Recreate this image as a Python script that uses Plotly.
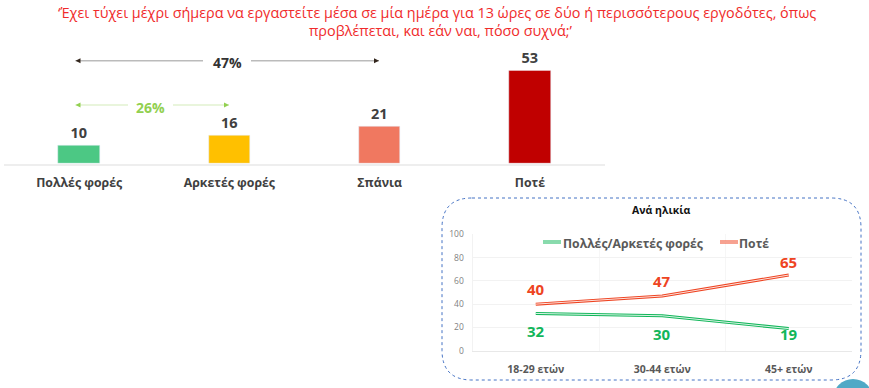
import plotly.graph_objects as go

W, H = 869, 388
question = ["‘Έχει τύχει μέχρι σήμερα να εργαστείτε μέσα σε μία ημέρα για 13 ώρες σε δύο ή περισσότερους εργοδότες, όπως",
            "προβλέπεται, και εάν ναι, πόσο συχνά;’"]
bar_categories = ["Πολλές φορές", "Αρκετές φορές", "Σπάνια", "Ποτέ"]
bar_values = [10, 16, 21, 53]
bar_colors = ["#4CC884", "#FFC000", "#F07860", "#C00000"]
age_groups = ["18-29 ετών", "30-44 ετών", "45+ ετών"]
often_values = [32, 30, 19]
never_values = [40, 47, 65]
often_label_shift = [-18, -18, -5]
never_label_shift = [15, 15, 13]
GREEN, RED = "#12B65A", "#EE4422"
FONT = "Open Sans"

def px(x): return x / W
def py(y): return 1 - y / H

fig = go.Figure()
fig.add_trace(go.Bar(x=bar_categories, y=bar_values, marker_color=bar_colors, width=0.275,
                     text=bar_values, textposition="outside", cliponaxis=False,
                     textfont=dict(family=FONT, size=14.5, color="#404040", weight="bold"),
                     showlegend=False, hoverinfo="x+y", xaxis="x", yaxis="y"))

for name, vals, col, shifts in [("Πολλές/Αρκετές φορές", often_values, GREEN, often_label_shift),
                                ("Ποτέ", never_values, RED, never_label_shift)]:
    fig.add_trace(go.Scatter(x=age_groups, y=vals, mode="lines", name=name, showlegend=False,
                             line=dict(color=col, width=3), xaxis="x2", yaxis="y2"))
    fig.add_trace(go.Scatter(x=age_groups, y=vals, mode="lines", name=name, showlegend=False,
                             line=dict(color="rgba(255,255,255,0.85)", width=1), xaxis="x2", yaxis="y2",
                             hoverinfo="skip"))
    for g, v, s in zip(age_groups, vals, shifts):
        fig.add_annotation(x=g, y=v, xref="x2", yref="y2", text="<b>%d</b>" % v, showarrow=False, yshift=s,
                           font=dict(family=FONT, size=15, color=col))

fig.update_layout(
    width=W, height=H, margin=dict(l=0, r=0, t=0, b=0), paper_bgcolor="white", plot_bgcolor="white",
    bargap=0,
    xaxis=dict(domain=[px(4), px(605)], anchor="y", range=[-0.5, 3.5], showgrid=False, showline=True, automargin=False,
               linecolor="#EEEEEE", linewidth=2, ticks="",
               tickfont=dict(family=FONT, size=12.3, color="#404040", weight="bold"), ticklabelstandoff=7),
    yaxis=dict(domain=[py(163.5), py(70.5)], range=[0, 53], visible=False, anchor="x", automargin=False),
    xaxis2=dict(domain=[px(472.5), px(852)], anchor="y2", range=[-0.5, 2.5], tickson="boundaries", showgrid=True,
                automargin=False, gridcolor="#F6F6F6", showline=True, linecolor="#E8E8E8", ticks="",
                tickfont=dict(family=FONT, size=10.5, color="#595959", weight="bold"), ticklabelstandoff=9),
    yaxis2=dict(domain=[py(350.7), py(234.3)], range=[0, 100], dtick=20, anchor="x2", gridcolor="#F2F2F2",
                automargin=False, zeroline=False, showline=True, linecolor="#F2F2F2", ticks="",
                tickfont=dict(family=FONT, size=8.5, color="#7F7F7F"), ticklabelstandoff=6),
    hovermode="closest",
)

def note(text, x, y, size, color, bold=True):
    fig.add_annotation(text=("<b>%s</b>" % text) if bold else text, x=px(x), y=py(y), xref="paper", yref="paper",
                       showarrow=False, font=dict(family=FONT, size=size, color=color), xanchor="center", yanchor="middle")

note(question[0], 437, 13, 14.4, "#F02B2B", bold=False)
note(question[1], 441, 31, 14.4, "#F02B2B", bold=False)
note("47%", 227, 63, 14, "#333333")
note("26%", 150, 107, 14, "#92D050")
note("Ανά ηλικία", 661, 210, 10.5, "#111111")
note("Πολλές/Αρκετές φορές", 633, 243, 12.2, "#595959")
note("Ποτέ", 753.5, 243, 12.2, "#595959")

def seg(x0, x1, y, color, width):
    fig.add_shape(type="line", xref="paper", yref="paper", x0=px(x0), x1=px(x1), y0=py(y), y1=py(y),
                  line=dict(color=color, width=width))

def arrow(x0, x1, gap0, gap1, y, line_color, head_color):
    seg(x0, gap0, y, line_color, 1.5)
    seg(gap1, x1, y, line_color, 1.5)
    for tipx, basex in [(x0, x0 + 5), (x1, x1 - 5)]:
        fig.add_shape(type="path", xref="paper", yref="paper", fillcolor=head_color, line_width=0,
                      path="M %f %f L %f %f L %f %f Z" % (px(tipx), py(y), px(basex), py(y - 2.5), px(basex), py(y + 2.5)))

arrow(75.5, 379, 203, 251, 60.7, "#BBBBBB", "#33261C")
arrow(75.5, 229, 128, 173, 105, "#E2F2D0", "#92D050")

# legend swatches
seg(543, 561, 242, GREEN, 3); seg(543, 561, 242, "white", 1)
seg(720, 738, 242, RED, 3); seg(720, 738, 242, "white", 1)

# rounded dotted frame
x0, x1, y0, y1, r = px(442), px(861), py(198), py(380), 30
rx, ry = r / W, r / H
fig.add_shape(type="path", xref="paper", yref="paper", line=dict(color="#4472C4", width=1, dash="dot"),
              path=f"M {x0+rx} {y0} L {x1-rx} {y0} Q {x1} {y0} {x1} {y0-ry} L {x1} {y1+ry} Q {x1} {y1} {x1-rx} {y1} "
                   f"L {x0+rx} {y1} Q {x0} {y1} {x0} {y1+ry} L {x0} {y0-ry} Q {x0} {y0} {x0+rx} {y0} Z")

# decorative circle at the bottom right corner
fig.add_shape(type="circle", xref="paper", yref="paper", x0=px(833), x1=px(873), y0=py(379), y1=py(419),
              fillcolor="#4FA9C6", line_width=0)

fig.write_html("out.html", config=dict(displayModeBar=False), post_script="document.body.style.margin='0';")
